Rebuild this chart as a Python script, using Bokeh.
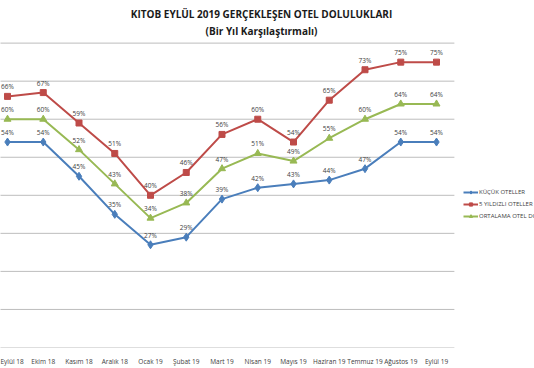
from bokeh.plotting import figure
from bokeh.models import Range1d, FixedTicker, Label, Legend, LegendItem, ColumnDataSource
from bokeh.embed import file_html
from bokeh.resources import INLINE
from bokeh.core.properties import value

months = ["Eylül 18", "Ekim 18", "Kasım 18", "Aralık 18", "Ocak 19", "Şubat 19", "Mart 19",
          "Nisan 19", "Mayıs 19", "Haziran 19", "Temmuz 19", "Ağustos 19", "Eylül 19"]
kucuk = [54, 54, 45, 35, 27, 29, 39, 42, 43, 44, 47, 54, 54]
bes_yildiz = [66, 67, 59, 51, 40, 46, 56, 60, 54, 65, 73, 75, 75]
ortalama = [60, 60, 52, 43, 34, 38, 47, 51, 49, 55, 60, 64, 64]
series_names = ["KÜÇÜK OTELLER", "5 YILDIZLI OTELLER", "ORTALAMA OTEL DOLULUĞU"]
y_ticks = [0, 10, 20, 30, 40, 50, 60, 70, 80]
title1 = "KITOB EYLÜL 2019 GERÇEKLEŞEN OTEL DOLULUKLARI"
title2 = "(Bir Yıl Karşılaştırmalı)"

FONT = "Open Sans"
xs = list(range(len(months)))

p = figure(width=534, height=368, output_backend="svg", toolbar_location=None,
           x_range=Range1d(-0.196, 14.741), y_range=Range1d(0, 91.2),
           min_border_left=0, min_border_right=0, min_border_top=0, min_border_bottom=18)
p.outline_line_color = None
p.grid.visible = False
p.yaxis.visible = False

# horizontal gridlines (span the category band only)
p.segment(x0=[-0.5] * len(y_ticks), x1=[len(months) - 0.5] * len(y_ticks), y0=y_ticks, y1=y_ticks,
          line_color="#bdbdbd", line_width=1)

xa = p.xaxis[0]
xa.ticker = FixedTicker(ticks=xs)
xa.major_label_overrides = {i: m for i, m in enumerate(months)}
xa.axis_line_color = None
xa.major_tick_line_color = None
xa.minor_tick_line_color = None
xa.major_label_standoff = 3
xa.major_label_text_font = FONT
xa.major_label_text_font_size = "6.5px"
xa.major_label_text_color = "#404040"

colors = ["#4a7ebb", "#be4b48", "#98b954"]
markers = ["diamond", "square", "triangle"]
msizes = [8, 6, 7]
items = []
for name, vals, c, m, ms in zip(series_names, [kucuk, bes_yildiz, ortalama], colors, markers, msizes):
    src = ColumnDataSource(dict(x=xs, y=vals, lab=[f"{v}%" for v in vals]))
    l = p.line("x", "y", source=src, line_color=c, line_width=2)
    s = p.scatter("x", "y", source=src, marker=m, size=ms, fill_color=c, line_color=c)
    p.text("x", "y", text="lab", source=src, text_align="center", text_baseline="bottom",
           y_offset=-5, text_font=value(FONT), text_font_size="6.5px", text_color="#404040")
    items.append(LegendItem(label=name, renderers=[l, s]))

legend = Legend(items=items, location=(463, 127), orientation="vertical",
                label_text_font=FONT, label_text_font_size="6px", label_text_color="#404040",
                glyph_width=15, glyph_height=8, label_height=8, label_standoff=1,
                spacing=4, padding=0, margin=0, border_line_color=None,
                background_fill_alpha=0)
p.add_layout(legend)

p.add_layout(Label(x=261, y=334, x_units="screen", y_units="screen", text=title1,
                   text_align="center", text_baseline="middle", text_font=FONT,
                   text_font_size="10px", text_font_style="bold", text_color="#1a1a1a"))
p.add_layout(Label(x=261, y=317, x_units="screen", y_units="screen", text=title2,
                   text_align="center", text_baseline="middle", text_font=FONT,
                   text_font_size="10px", text_font_style="bold", text_color="#1a1a1a"))

open("out.html", "w").write(file_html(p, INLINE))
